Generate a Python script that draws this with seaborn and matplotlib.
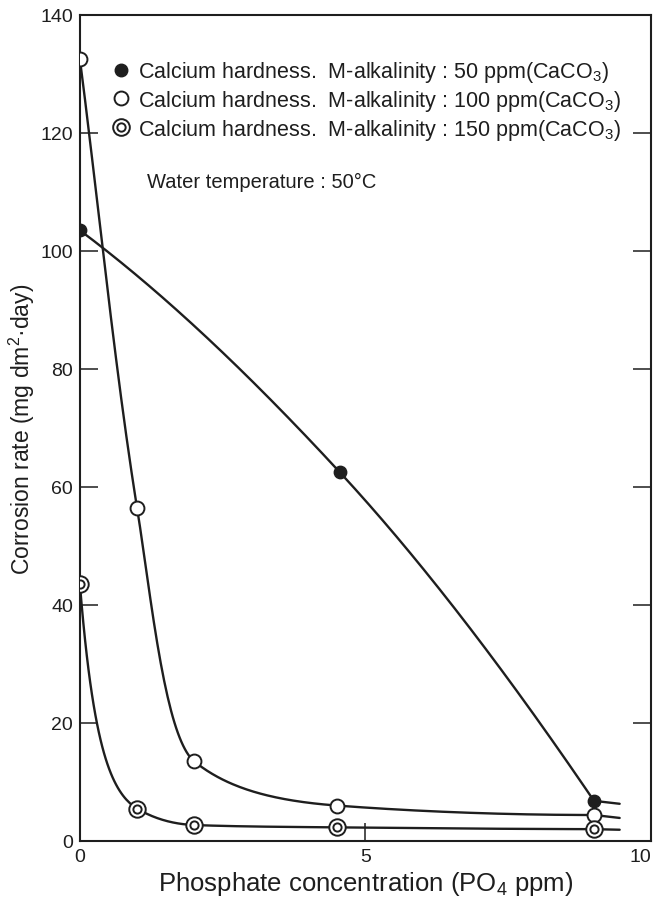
import numpy as np
import pandas as pd
import seaborn as sns
from matplotlib import pyplot as plt
from matplotlib.lines import Line2D

# values
po4 = [0, 1, 2, 4.5, 9]
rate_50 = [103.5, 62.5, 6.8]          # filled circles (measured at 0, 4.55, 9)
po4_50 = [0, 4.55, 9]
rate_100 = [132.5, 56.5, 13.5, 6.0, 4.4]
rate_150 = [43.5, 5.5, 2.7, 2.3, 2.0]
tail_x = 9.45                            # hand-drawn lines run a little past the last point
tail_50, tail_100, tail_150 = 6.3, 3.9, 1.9

labels = ['Calcium hardness.  M-alkalinity : 50 ppm(CaCO$_3$)',
          'Calcium hardness.  M-alkalinity : 100 ppm(CaCO$_3$)',
          'Calcium hardness.  M-alkalinity : 150 ppm(CaCO$_3$)']

INK = '#1e1e1e'


def pchip(x, y, xs):
    # monotone cubic curve through the measured points (only for drawing the line)
    x = np.asarray(x, float); y = np.asarray(y, float)
    h = np.diff(x); d = np.diff(y) / h
    n = len(x); m = np.zeros(n)
    for k in range(1, n - 1):
        if d[k - 1] * d[k] > 0:
            w1 = 2 * h[k] + h[k - 1]; w2 = h[k] + 2 * h[k - 1]
            m[k] = (w1 + w2) / (w1 / d[k - 1] + w2 / d[k])
    def end(h0, h1, d0, d1):
        v = ((2 * h0 + h1) * d0 - h0 * d1) / (h0 + h1)
        if np.sign(v) != np.sign(d0):
            return 0.0
        if np.sign(d0) != np.sign(d1) and abs(v) > abs(3 * d0):
            return 3 * d0
        return v
    if n > 2:
        m[0] = end(h[0], h[1], d[0], d[1])
        m[-1] = end(h[-1], h[-2], d[-1], d[-2])
    else:
        m[:] = d[0]
    idx = np.clip(np.searchsorted(x, xs) - 1, 0, n - 2)
    t = (xs - x[idx]) / h[idx]
    h00 = 2 * t**3 - 3 * t**2 + 1; h10 = t**3 - 2 * t**2 + t
    h01 = -2 * t**3 + 3 * t**2; h11 = t**3 - t**2
    return h00 * y[idx] + h10 * h[idx] * m[idx] + h01 * y[idx + 1] + h11 * h[idx] * m[idx + 1]


def curve(x, y, tail_y, name, log=False):
    xs = np.linspace(x[0], x[-1], 300)
    if log:
        ys = np.exp(pchip(x, np.log(y), xs))
    else:
        ys = pchip(x, y, xs)
    xs = np.append(xs, tail_x); ys = np.append(ys, tail_y)
    return pd.DataFrame({'x': xs, 'y': ys, 'series': name})


sns.set_style('white')
plt.rcParams['font.family'] = ['Liberation Sans', 'DejaVu Sans']
plt.rcParams['mathtext.fontset'] = 'custom'
plt.rcParams['mathtext.rm'] = 'Liberation Sans'

fig = plt.figure(figsize=(6.55, 9.03), dpi=100)
ax = fig.add_axes([0.122, 0.0676, 0.872, 0.9147])

lines = pd.concat([curve(po4_50, rate_50, tail_50, '50'),
                   curve(po4, rate_100, tail_100, '100', log=True),
                   curve(po4, rate_150, tail_150, '150', log=True)])
sns.lineplot(data=lines, x='x', y='y', units='series', estimator=None, sort=False,
             color=INK, lw=1.7, ax=ax, legend=False)

pts50 = pd.DataFrame({'x': po4_50, 'y': rate_50})
pts100 = pd.DataFrame({'x': po4, 'y': rate_100})
pts150 = pd.DataFrame({'x': po4, 'y': rate_150})
sns.scatterplot(data=pts50, x='x', y='y', s=80, color=INK, edgecolor=INK, lw=1, ax=ax, zorder=5)
sns.scatterplot(data=pts100, x='x', y='y', s=100, color='white', edgecolor=INK, lw=1.4, ax=ax, zorder=5)
sns.scatterplot(data=pts150, x='x', y='y', s=140, color='white', edgecolor=INK, lw=1.4, ax=ax, zorder=5)
sns.scatterplot(data=pts150, x='x', y='y', s=35, color='white', edgecolor=INK, lw=1.4, ax=ax, zorder=6)

ax.set_xlim(0, 10)
ax.set_ylim(0, 140)
ax.set_xticks([0, 5, 10])
ax.set_yticks(np.arange(0, 141, 20))
ax.tick_params(direction='in', length=13, width=1.1, colors=INK, labelsize=14,
               right=True, left=True, bottom=True, top=False, pad=5)
ax.tick_params(axis='y', labelright=False)
ax.get_xticklabels()[-1].set_horizontalalignment('right')
for s in ax.spines.values():
    s.set_color(INK); s.set_linewidth(1.5)

ax.set_xlabel('Phosphate concentration (PO$_4$ ppm)', fontsize=18.5, color=INK, labelpad=3)
ax.set_ylabel('Corrosion rate (mg dm$^2$·day)', fontsize=16.5, color=INK, labelpad=2)

h1 = Line2D([], [], ls='', marker='o', ms=9, mfc=INK, mec=INK)
h2 = Line2D([], [], ls='', marker='o', ms=10, mfc='white', mec=INK, mew=1.4)
h3o = Line2D([], [], ls='', marker='o', ms=12, mfc='white', mec=INK, mew=1.4)
h3i = Line2D([], [], ls='', marker='o', ms=6, mfc='white', mec=INK, mew=1.4)
leg = ax.legend([h1, h2, (h3o, h3i)], labels, loc='upper left',
                bbox_to_anchor=(0.045, 0.957), frameon=False, fontsize=15.5,
                handlelength=0.6, handletextpad=0.5, labelspacing=0.18, borderaxespad=0)
for t in leg.get_texts():
    t.set_color(INK)

ax.text(0.117, 0.798, 'Water temperature : 50°C', transform=ax.transAxes,
        fontsize=14.5, color=INK, va='center')

fig.savefig('out.png', dpi=100)
